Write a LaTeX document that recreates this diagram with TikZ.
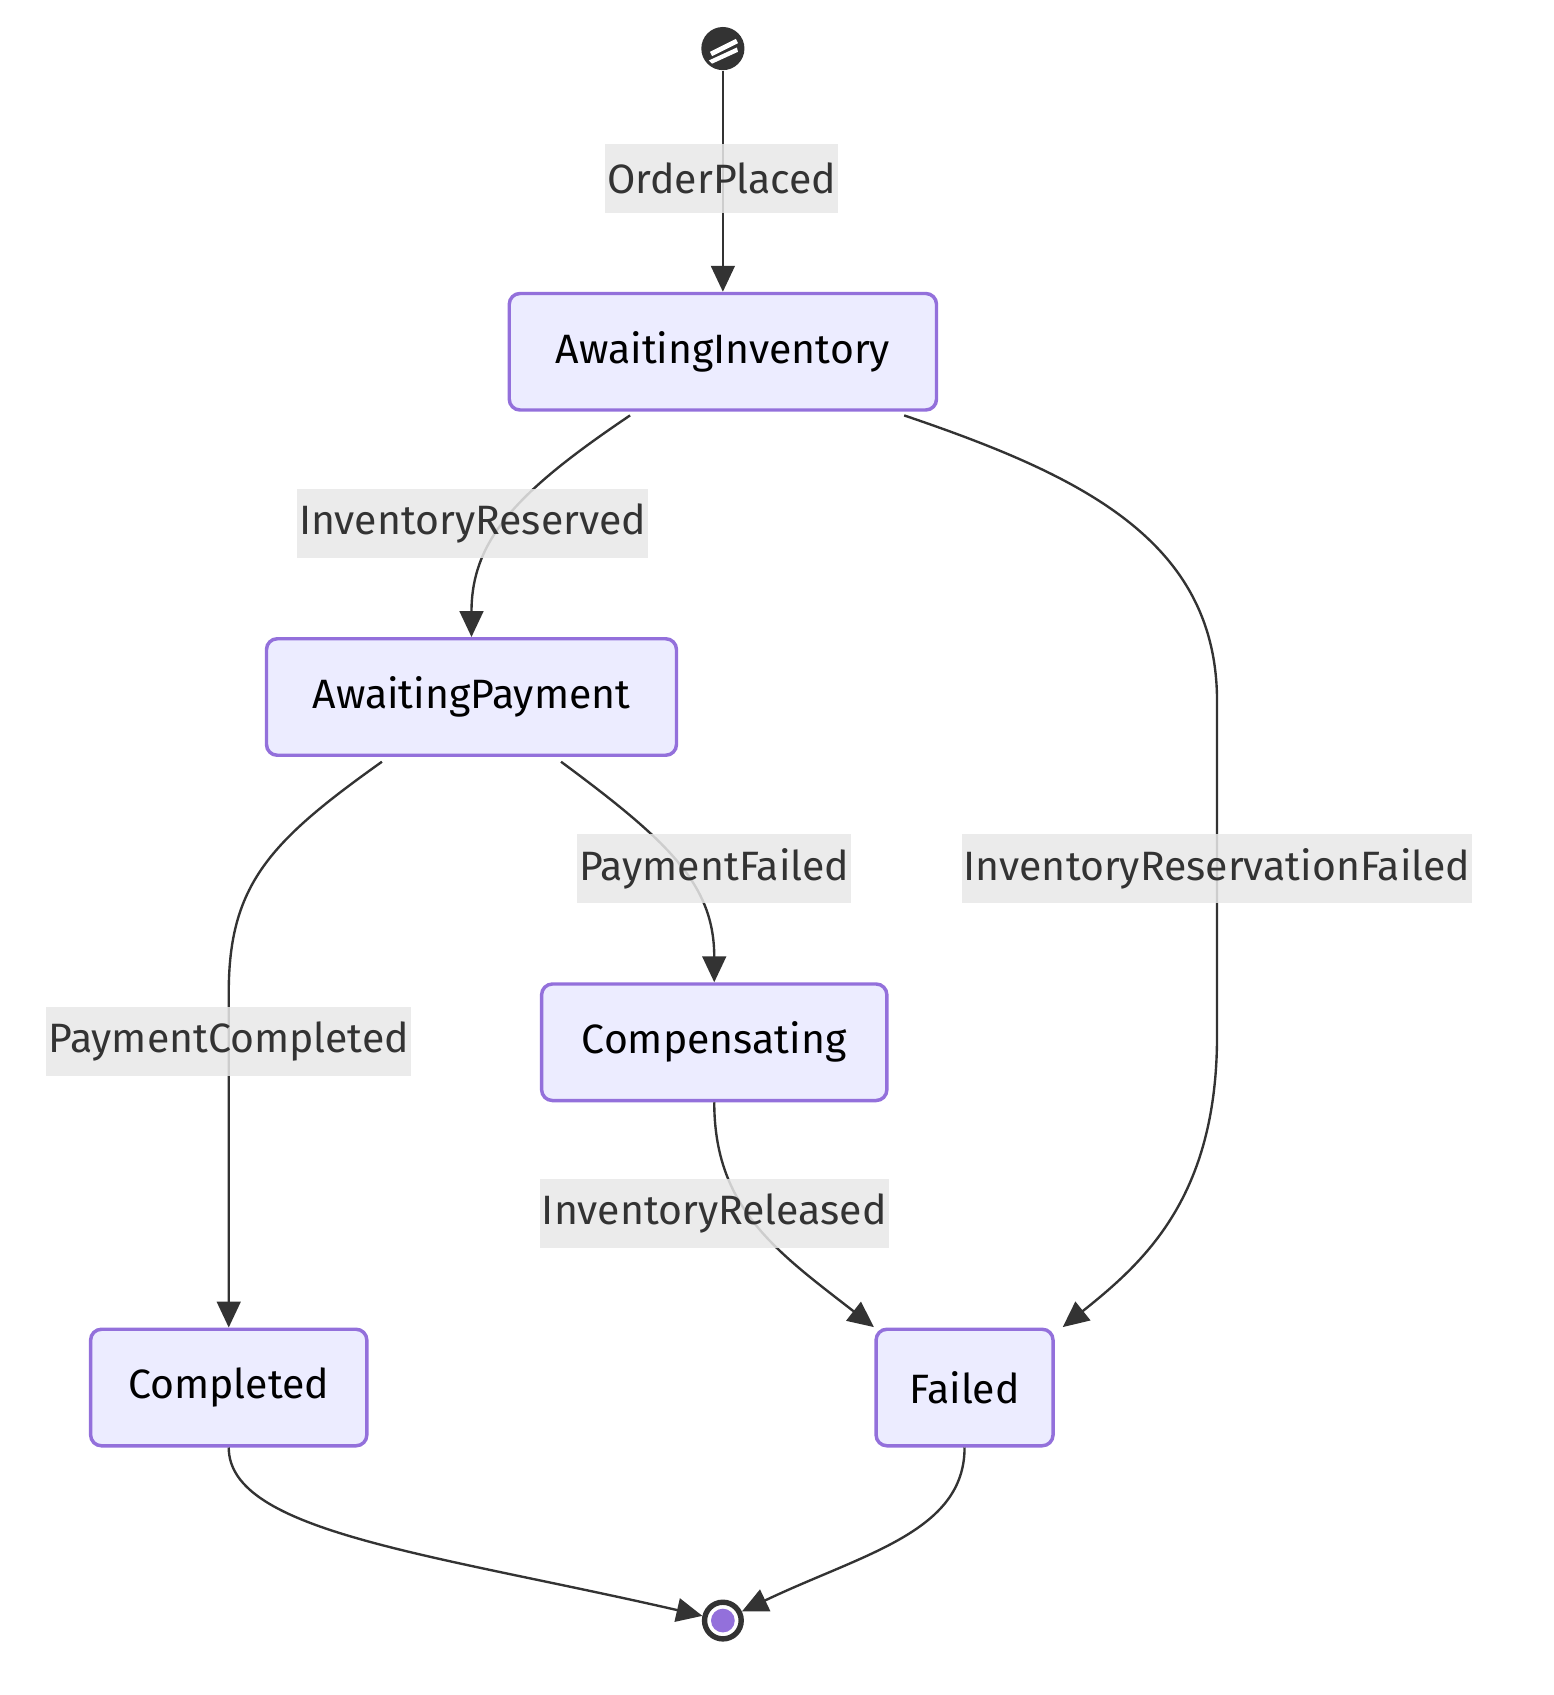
\documentclass[tikz,border=0pt]{standalone}
\usepackage{fontspec}
\setmainfont{Fira Sans}
\usetikzlibrary{arrows.meta,patterns}
\definecolor{sfill}{HTML}{ECECFF}
\definecolor{sdraw}{HTML}{9370DB}
\definecolor{ecol}{HTML}{333333}
\definecolor{lbg}{HTML}{E8E8E8}
\begin{document}
\begin{tikzpicture}[x=0.5pt,y=-0.5pt,
 st/.style={draw=sdraw,fill=sfill,line width=1.6pt,rounded corners=5pt,minimum height=54pt,inner xsep=11pt,font=\fontsize{19}{22}\selectfont},
 lb/.style={fill=lbg,fill opacity=0.85,text opacity=1,text=ecol,inner xsep=1pt,minimum height=32pt,font=\fontsize{19}{22}\selectfont},
 ed/.style={draw=ecol,line width=1.1pt,-{Stealth[length=12pt,width=11pt,inset=0pt]}}]
\useasboundingbox (0,0) rectangle (1440,1571);
\node[circle,fill=ecol,minimum size=20pt,inner sep=0] (s) at (670,45) {};
\fill[white] (658,48) -- (682,36) -- (684,40) -- (660,52) -- cycle;
\fill[white] (657,56) -- (683,44) -- (684,48) -- (660,59) -- cycle;
\node[st,minimum width=198pt] (ai) at (670,326) {AwaitingInventory};
\node[st,minimum width=190pt] (ap) at (437,646) {AwaitingPayment};
\node[st,minimum width=160pt] (cp) at (662,966) {Compensating};
\node[st,minimum width=128pt] (co) at (212,1286) {Completed};
\node[st,minimum width=82pt] (fa) at (894,1286) {Failed};
\node[circle,draw=ecol,line width=2.5pt,fill=white,minimum size=17pt,inner sep=0] (e) at (670,1502) {};
\fill[sdraw] (e) circle (5.5pt);
\draw[ed] (s) -- (ai);
\draw[ed] (584,385) .. controls (480,455) and (437,500) .. (ap.north);
\draw[ed] (838,385) .. controls (1000,440) and (1128,500) .. (1128,650) -- (1128,960) .. controls (1128,1110) and (1060,1170) .. (985,1230);
\draw[ed] (354,706) .. controls (250,780) and (212,820) .. (212,920) -- (co.north);
\draw[ed] (520,706) .. controls (620,780) and (662,820) .. (cp.north);
\draw[ed] (cp.south) .. controls (662,1120) and (720,1160) .. (810,1230);
\draw[ed] (co.south) .. controls (212,1420) and (400,1440) .. (e);
\draw[ed] (fa.south) .. controls (894,1420) and (800,1440) .. (e);
\node[lb] (l1) at (669,165) {OrderPlaced};
\node[lb] (l2) at (438,485) {InventoryReserved};
\node[lb] (l3) at (662,805) {PaymentFailed};
\node[lb] (l4) at (1128,805) {InventoryReservationFailed};
\node[lb] (l5) at (212,965) {PaymentCompleted};
\node[lb] (l6) at (662,1125) {InventoryReleased};
\end{tikzpicture}
\end{document}
